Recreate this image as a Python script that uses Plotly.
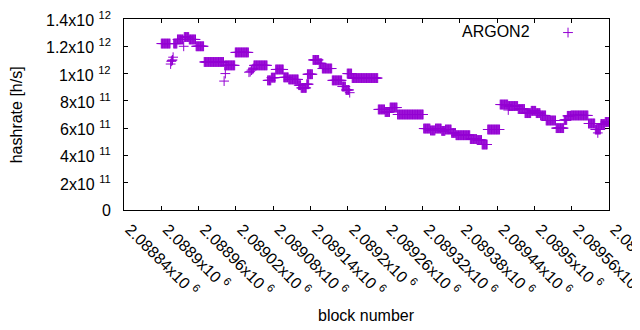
import plotly.graph_objects as go

# ---- data ----
# runs of consecutive blocks sharing the same estimated hashrate
RUN_START = [2088900, 2088920, 2088926, 2088937, 2088945, 2088956, 2088969, 2089002,
             2089019, 2089049, 2089071, 2089077, 2089084, 2089097, 2089105, 2089121,
             2089125, 2089134, 2089135, 2089144, 2089154, 2089159, 2089175, 2089191,
             2089197, 2089199, 2089207, 2089249, 2089260, 2089268, 2089280, 2089322,
             2089333, 2089341, 2089351, 2089357, 2089367, 2089374, 2089397, 2089408,
             2089416, 2089425, 2089445, 2089458, 2089474, 2089485, 2089495, 2089503,
             2089510, 2089519, 2089535, 2089548, 2089553, 2089559, 2089587, 2089598,
             2089607, 2089614]
RUN_END = [2088914, 2088925, 2088935, 2088944, 2088955, 2088968, 2089000, 2089018,
           2089040, 2089070, 2089076, 2089083, 2089096, 2089104, 2089120, 2089124,
           2089133, 2089137, 2089143, 2089153, 2089158, 2089174, 2089190, 2089196,
           2089202, 2089206, 2089248, 2089259, 2089267, 2089279, 2089321, 2089332,
           2089340, 2089350, 2089356, 2089366, 2089373, 2089396, 2089407, 2089415,
           2089424, 2089444, 2089457, 2089473, 2089484, 2089494, 2089502, 2089509,
           2089518, 2089534, 2089547, 2089552, 2089558, 2089586, 2089597, 2089606,
           2089613, 2089620]
RUN_HASHRATE = [1.22e12, 1.22e12, 1.25e12, 1.268e12, 1.25e12, 1.20e12, 1.085e12, 1.06e12,
                1.155e12, 1.06e12, 0.950e12, 0.970e12, 1.03e12, 0.972e12, 0.957e12, 0.915e12,
                0.895e12, 0.922e12, 0.995e12, 1.10e12, 1.075e12, 1.037e12, 0.95e12, 0.905e12,
                0.88e12, 1.0e12, 0.967e12, 0.737e12, 0.718e12, 0.751e12, 0.70e12, 0.597e12,
                0.583e12, 0.597e12, 0.58e12, 0.59e12, 0.565e12, 0.548e12, 0.52e12, 0.513e12,
                0.48e12, 0.59e12, 0.773e12, 0.762e12, 0.74e12, 0.71e12, 0.727e12, 0.71e12,
                0.693e12, 0.656e12, 0.60e12, 0.66e12, 0.69e12, 0.693e12, 0.634e12, 0.59e12,
                0.63e12, 0.645e12]

# single blocks that stand apart from their run
SINGLE_BLOCK = [2088915, 2088916, 2088917, 2088918, 2088919, 2088936, 2089001, 2089003,
                2089041, 2089043, 2089045, 2089047, 2089048, 2089203, 2089458, 2089602]
SINGLE_HASHRATE = [1.07e12, 1.09e12, 1.095e12, 1.10e12, 1.12e12, 1.20e12, 0.945e12, 1.0e12,
                   1.01e12, 1.014e12, 1.025e12, 1.031e12, 1.038e12, 0.86e12, 0.733e12, 0.565e12]

SERIES_NAME = "ARGON2"
X_TICKS = [2088840 + 60 * i for i in range(14)]
Y_TICKS = [0, 2e11, 4e11, 6e11, 8e11, 1e12, 1.2e12, 1.4e12]
Y_TICK_TEXT = ["0", "2x10 <sup>11</sup>", "4x10 <sup>11</sup>", "6x10 <sup>11</sup>",
               "8x10 <sup>11</sup>", "1x10 <sup>12</sup>", "1.2x10 <sup>12</sup>",
               "1.4x10 <sup>12</sup>"]
X_RANGE = [2088840, 2089620]
Y_RANGE = [0, 1.4e12]

# ---- build point list ----
xs, ys = [], []
for s, e, v in zip(RUN_START, RUN_END, RUN_HASHRATE):
    for b in range(s, e + 1):
        xs.append(b)
        ys.append(v)
xs += SINGLE_BLOCK
ys += SINGLE_HASHRATE

COLOR = "#9400d3"
FONT = "Liberation Sans, Arial, sans-serif"
marker = dict(symbol="cross-thin", size=7, color=COLOR, line=dict(width=1, color=COLOR))

fig = go.Figure()
fig.add_trace(go.Scatter(x=xs, y=ys, mode="markers", marker=marker, name=SERIES_NAME,
                         showlegend=False))
# legend sample marker on an invisible overlay axis (0..1 paper-like)
fig.add_trace(go.Scatter(x=[0.9155], y=[0.929], mode="markers", marker=marker,
                         xaxis="x2", yaxis="y2", showlegend=False, cliponaxis=False))

x_text = [f"{v/1e6:g}x10 <sup>6</sup>" for v in X_TICKS]

axis_common = dict(showline=True, linecolor="black", linewidth=1, mirror="ticks",
                   ticks="inside", ticklen=4, tickcolor="black", tickwidth=1,
                   showgrid=False, zeroline=False, automargin=False,
                   ticklabeloverflow="allow",
                   tickfont=dict(family=FONT, size=16, color="black"))

annotations = [
    dict(text=SERIES_NAME, xref="paper", yref="paper", x=0.8412, y=0.932,
         xanchor="right", yanchor="middle", showarrow=False,
         font=dict(family=FONT, size=16, color="black")),
    dict(text="block number", xref="paper", yref="paper", x=0.5, y=-0.55,
         xanchor="center", yanchor="middle", showarrow=False,
         font=dict(family=FONT, size=16, color="black")),
    dict(text="hashrate [h/s]", xref="paper", yref="paper", x=-0.221, y=0.5,
         xanchor="center", yanchor="middle", textangle=-90, showarrow=False,
         font=dict(family=FONT, size=16, color="black")),
]
# y tick labels, right-aligned ~12px left of the axis
for v, t in zip(Y_TICKS, Y_TICK_TEXT):
    annotations.append(dict(text=t, xref="paper", yref="y", x=0, y=v, xanchor="right",
                            yanchor="middle", xshift=-11, showarrow=False,
                            font=dict(family=FONT, size=16, color="black")))

# page body has an 8px default margin, so the figure is 8px smaller than the window
fig.update_layout(
    width=632, height=322,
    margin=dict(l=116, r=31, t=11, b=120, autoexpand=False),
    paper_bgcolor="white", plot_bgcolor="white",
    font=dict(family=FONT, size=16, color="black"),
    showlegend=False,
    xaxis=dict(range=X_RANGE, tickmode="array", tickvals=X_TICKS, ticktext=x_text,
               tickangle=45, ticklabelstandoff=3, ticklabelshift=6, **axis_common),
    yaxis=dict(range=Y_RANGE, tickmode="array", tickvals=Y_TICKS, showticklabels=False,
               **axis_common),
    xaxis2=dict(overlaying="x", range=[0, 1], visible=False),
    yaxis2=dict(overlaying="y", range=[0, 1], visible=False),
    annotations=annotations,
)

fig.write_html("out.html")
